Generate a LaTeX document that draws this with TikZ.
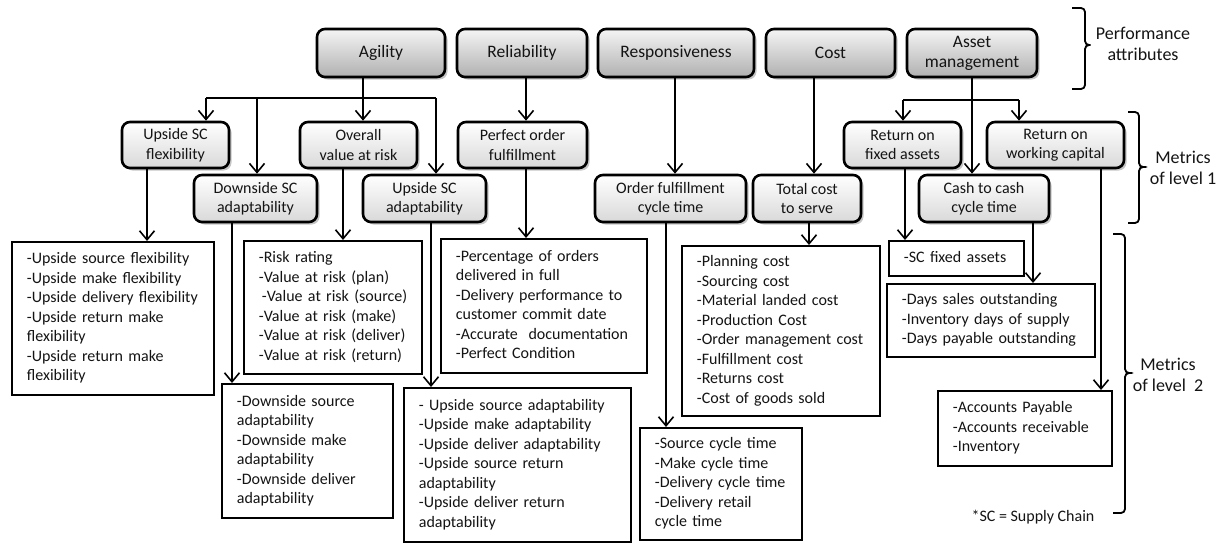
\documentclass[tikz,border=0pt]{standalone}
\usepackage{fontspec}
\setmainfont{Carlito}
\usetikzlibrary{arrows.meta,shadows}
\definecolor{txt}{HTML}{141414}
\newcommand\mylist[1]{\begin{tabular}{@{}l@{}}#1\end{tabular}}
\begin{document}
\begin{tikzpicture}[x=1pt,y=-1pt,
  shd/.style={drop shadow={shadow xshift=2.5pt,shadow yshift=-2.5pt,opacity=0.45}},
  attr/.style={draw=black,line width=2.6pt,rounded corners=8pt,top color=gray!8,bottom color=gray!62,shd,
    align=center,inner sep=0pt,text=txt,font=\fontsize{17.5}{20}\selectfont},
  lvone/.style={draw=black,line width=2.6pt,rounded corners=8pt,top color=white,bottom color=gray!30,shd,
    align=center,inner sep=0pt,text=txt,font=\fontsize{16}{19.5}\selectfont},
  lvtwo/.style={draw=black,line width=1.8pt,fill=white,anchor=north west,align=left,inner xsep=15pt,inner ysep=0pt,
    text=txt,font=\fontsize{16}{19.5}\selectfont},
  ln/.style={line width=1.6pt},
  arr/.style={line width=1.6pt,-{Straight Barb[length=9pt,width=15pt,line width=1.6pt]}},
  brk/.style={line width=1.8pt,rounded corners=4pt},
  side/.style={align=center,text=txt,font=\fontsize{18}{21.5}\selectfont},
]
\useasboundingbox[fill=white] (0,0) rectangle (1223,543);

% performance attributes
\node[attr,minimum width=128pt,minimum height=48pt] (agility) at (381,53) {Agility};
\node[attr,minimum width=130pt,minimum height=48pt] (reliab) at (522,53) {Reliability};
\node[attr,minimum width=156pt,minimum height=48pt] (respons) at (676,53) {Responsiveness};
\node[attr,minimum width=129pt,minimum height=48pt] (cost) at (830.5,53) {Cost};
\node[attr,minimum width=130pt,minimum height=48pt] (asset) at (972,53) {Asset\\management};

% metrics of level 1
\node[lvone,minimum width=107pt,minimum height=46pt] (usf) at (175.5,145) {Upside SC\\flexibility};
\node[lvone,minimum width=117pt,minimum height=46pt] (ovar) at (358.5,145) {Overall\\value at risk};
\node[lvone,minimum width=129pt,minimum height=46pt] (pof) at (522.5,145) {Perfect order\\fulfillment};
\node[lvone,minimum width=117pt,minimum height=46pt] (rofa) at (902.5,145) {Return on\\fixed assets};
\node[lvone,minimum width=137pt,minimum height=46pt] (rowc) at (1055.5,145) {Return on\\working capital};
\node[lvone,minimum width=123pt,minimum height=47pt] (dsa) at (255.5,198.5) {Downside SC\\adaptability};
\node[lvone,minimum width=123pt,minimum height=47pt] (usa) at (424.5,198.5) {Upside SC\\adaptability};
\node[lvone,minimum width=151pt,minimum height=47pt] (ofct) at (670.5,198.5) {Order fulfillment\\cycle time};
\node[lvone,minimum width=108pt,minimum height=47pt] (tcs) at (807,198.5) {Total cost\\to serve};
\node[lvone,minimum width=130pt,minimum height=47pt] (ctc) at (984,198.5) {Cash to cash\\cycle time};

% metrics of level 2
\node[lvtwo,text width=172pt,minimum height=153pt] (usfl) at (11,241) {\mylist{-Upside source flexibility\\-Upside make flexibility\\-Upside delivery flexibility\\-Upside return make\\flexibility\\-Upside return make\\flexibility}};
\node[lvtwo,text width=148pt,minimum height=133pt] (ovarl) at (243,240) {\mylist{-Risk rating\\-Value at risk (plan)\\\hspace*{3pt}-Value at risk (source)\\-Value at risk (make)\\-Value at risk (deliver)\\-Value at risk (return)}};
\node[lvtwo,text width=176pt,minimum height=134pt] (pofl) at (440,238) {\mylist{-Percentage of orders\\delivered in full\\-Delivery performance to\\customer commit date\\-Accurate\ \ documentation\\-Perfect Condition}};
\node[lvtwo,text width=141pt,minimum height=134pt] (dsal) at (221,383) {\mylist{-Downside source\\adaptability\\-Downside make\\adaptability\\-Downside deliver\\adaptability}};
\node[lvtwo,text width=197pt,minimum height=154pt] (usal) at (403,387) {\mylist{- Upside source adaptability\\-Upside make adaptability\\-Upside deliver adaptability\\-Upside source return\\adaptability\\-Upside deliver return\\adaptability}};
\node[lvtwo,text width=132pt,minimum height=112pt] (ofctl) at (639,427) {\mylist{-Source cycle time\\-Make cycle time\\-Delivery cycle time\\-Delivery retail\\cycle time}};
\node[lvtwo,text width=168pt,minimum height=170pt] (tcsl) at (681,245) {\mylist{-Planning cost\\-Sourcing cost\\-Material landed cost\\-Production Cost\\-Order management cost\\-Fulfillment cost\\-Returns cost\\-Cost of goods sold}};
\node[lvtwo,text width=105pt,minimum height=35pt] (scfa) at (888,240) {\mylist{-SC fixed assets}};
\node[lvtwo,text width=178pt,minimum height=73pt] (days) at (886,283) {\mylist{-Days sales outstanding\\-Inventory days of supply\\-Days payable outstanding}};
\node[lvtwo,text width=144pt,minimum height=75pt] (acc) at (937,390) {\mylist{-Accounts Payable\\-Accounts receivable\\-Inventory}};

% side labels
\node[side] (perf) at (1143,44) {Performance\\attributes};
\node[side] (lvl1) at (1183,168) {Metrics\\of level 1};
\node[side] (lvl2) at (1168,375) {Metrics\\of level~~2};
\node[text=txt,font=\fontsize{16}{19.5}\selectfont] (scnote) at (1033,517) {*SC = Supply Chain};

% brackets
\draw[brk] (1072,8) -- (1085,8) -- (1085,45) -- (1093,45) -- (1085,45) -- (1085,89) -- (1072,89);
\draw[brk] (1128,112) -- (1139,112) -- (1139,167) -- (1146,167) -- (1139,167) -- (1139,223) -- (1128,223);
\draw[brk] (1113,234) -- (1125,234) -- (1125,373) -- (1132,373) -- (1125,373) -- (1125,513) -- (1113,513);

% connector coordinates
\coordinate (abus) at (363,98);
\coordinate (busL) at (206,98);
\coordinate (busD) at (257,98);
\coordinate (busR) at (436,98);
\coordinate (sbL) at (903,100);
\coordinate (sbR) at (1019,100);
\coordinate (cA) at (147,0);
\coordinate (cB) at (232,0);
\coordinate (cC) at (343,0);
\coordinate (cD) at (431,0);
\coordinate (cE) at (526,0);
\coordinate (cF) at (675,0);
\coordinate (cG) at (666,0);
\coordinate (cH) at (814,0);
\coordinate (cI) at (809,0);
\coordinate (cJ) at (905,0);
\coordinate (cK) at (1033,0);
\coordinate (cL) at (1101,0);
\coordinate (cM) at (972,0);

% attributes -> level 1
\draw[arr] (agility.south -| abus) -- (ovar.north -| abus);
\draw[ln] (busL) -- (busR);
\draw[arr] (busL) -- (usf.north -| busL);
\draw[arr] (busD) -- (dsa.north -| busD);
\draw[arr] (busR) -- (usa.north -| busR);
\draw[arr] (reliab.south -| cE) -- (pof.north -| cE);
\draw[arr] (respons.south -| cF) -- (ofct.north -| cF);
\draw[arr] (cost.south -| cH) -- (tcs.north -| cH);
\draw[arr] (asset.south -| cM) -- (ctc.north -| cM);
\draw[ln] (sbL) -- (sbR);
\draw[arr] (sbL) -- (rofa.north -| sbL);
\draw[arr] (sbR) -- (rowc.north -| sbR);

% level 1 -> level 2
\draw[arr] (usf.south -| cA) -- (usfl.north -| cA);
\draw[arr] (dsa.south -| cB) -- (dsal.north -| cB);
\draw[arr] (ovar.south -| cC) -- (ovarl.north -| cC);
\draw[arr] (usa.south -| cD) -- (usal.north -| cD);
\draw[arr] (pof.south -| cE) -- (pofl.north -| cE);
\draw[arr] (ofct.south -| cG) -- (ofctl.north -| cG);
\draw[arr] (tcs.south -| cI) -- (tcsl.north -| cI);
\draw[arr] (rofa.south -| cJ) -- (scfa.north -| cJ);
\draw[arr] (ctc.south -| cK) -- (days.north -| cK);
\draw[arr] (rowc.south -| cL) -- (acc.north -| cL);
\end{tikzpicture}
\end{document}
